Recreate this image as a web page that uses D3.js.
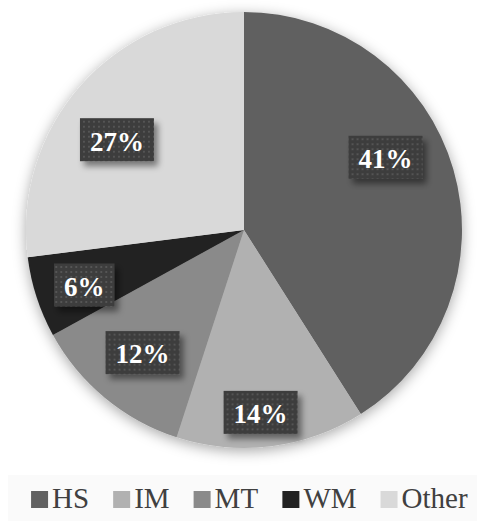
<!DOCTYPE html>
<html>
<head>
<meta charset="utf-8">
<script src="https://cdn.jsdelivr.net/npm/d3@7"></script>
<style>
  html, body { margin: 0; padding: 0; background: #ffffff; }
  svg { display: block; }
</style>
</head>
<body>
<div id="chart"></div>
<script>
// Share of each group
const categories = ["HS", "IM", "MT", "WM", "Other"];
const shares = [41, 14, 12, 6, 27];
const sliceColors = ["#616161", "#b1b1b1", "#8a8a8a", "#222222", "#d9d9d9"];

const width = 477, height = 521;
const cx = 244, cy = 230, radius = 218;
const serif = "Liberation Serif, Times New Roman, serif";

// where each value tag sits: fraction of the radius and angular shift (degrees)
const tagPlacement = {
  HS: [0.73, -11], IM: [0.84, 2], MT: [0.73, 0], WM: [0.775, -1], Other: [0.715, -6]
};

const svg = d3.select("#chart").append("svg")
  .attr("width", width).attr("height", height);

const defs = svg.append("defs");

// soft halo under the pie
const pieShadow = defs.append("filter").attr("id", "pieShadow")
  .attr("x", "-20%").attr("y", "-20%").attr("width", "140%").attr("height", "140%");
pieShadow.append("feDropShadow")
  .attr("dx", 0).attr("dy", 3).attr("stdDeviation", 7)
  .attr("flood-color", "#000").attr("flood-opacity", 0.35);

// shadow for the value tags
const tagShadow = defs.append("filter").attr("id", "tagShadow")
  .attr("x", "-20%").attr("y", "-20%").attr("width", "150%").attr("height", "160%");
tagShadow.append("feDropShadow")
  .attr("dx", 4).attr("dy", 5).attr("stdDeviation", 3)
  .attr("flood-color", "#000").attr("flood-opacity", 0.45);

// dotted fill for the value tags
const dots = defs.append("pattern").attr("id", "dots")
  .attr("width", 5).attr("height", 5).attr("patternUnits", "userSpaceOnUse");
dots.append("rect").attr("width", 5).attr("height", 5).attr("fill", "#3c3c3c");
dots.append("rect").attr("x", 1).attr("y", 1).attr("width", 2).attr("height", 2).attr("fill", "#545454");

const color = d3.scaleOrdinal().domain(categories).range(sliceColors);

const pie = d3.pie().sort(null).value(d => d.value);
const data = categories.map((c, i) => ({ name: c, value: shares[i] }));
const arcs = pie(data);

const arc = d3.arc().innerRadius(0).outerRadius(radius);

const g = svg.append("g").attr("transform", `translate(${cx},${cy})`);

g.append("g").attr("filter", "url(#pieShadow)")
  .selectAll("path").data(arcs).join("path")
  .attr("d", arc)
  .attr("fill", d => color(d.data.name));

// value tags, placed inside each slice
const tags = g.selectAll("g.tag").data(arcs).join("g").attr("class", "tag")
  .attr("transform", d => {
    const [f, shift] = tagPlacement[d.data.name];
    const a = (d.startAngle + d.endAngle) / 2 + shift * Math.PI / 180;
    const r = radius * f;
    return `translate(${r * Math.sin(a)},${-r * Math.cos(a)})`;
  });

tags.each(function(d) {
  const t = d3.select(this);
  const text = t.append("text")
    .attr("text-anchor", "middle")
    .attr("dy", "0.4em")
    .attr("font-family", serif)
    .attr("font-size", 27)
    .attr("font-weight", "bold")
    .attr("fill", "#ffffff")
    .text(d.data.value + "%");
  const bb = text.node().getBBox();
  const padX = 10, h = 43;
  t.insert("rect", "text")
    .attr("x", bb.x - padX).attr("y", -h / 2)
    .attr("width", bb.width + 2 * padX).attr("height", h)
    .attr("fill", "url(#dots)")
    .attr("filter", "url(#tagShadow)");
});

// legend
const baseline = 508;
svg.append("rect").attr("x", 8).attr("y", 475).attr("width", 469).attr("height", 46)
  .attr("fill", "#fafafa");

const legend = svg.append("g");
const items = legend.selectAll("g").data(categories).join("g");
items.append("rect")
  .attr("y", baseline - 17).attr("width", 17).attr("height", 17)
  .attr("fill", d => color(d));
items.append("text")
  .attr("x", 21).attr("y", baseline)
  .attr("font-family", serif)
  .attr("font-size", 29).attr("fill", "#404040")
  .text(d => d);

let x = 0;
const gap = 24;
items.each(function() {
  d3.select(this).attr("transform", `translate(${x},0)`);
  x += this.getBBox().width + gap;
});
const total = x - gap;
legend.attr("transform", `translate(${(width - total) / 2 + 11},0)`);
</script>
</body>
</html>
